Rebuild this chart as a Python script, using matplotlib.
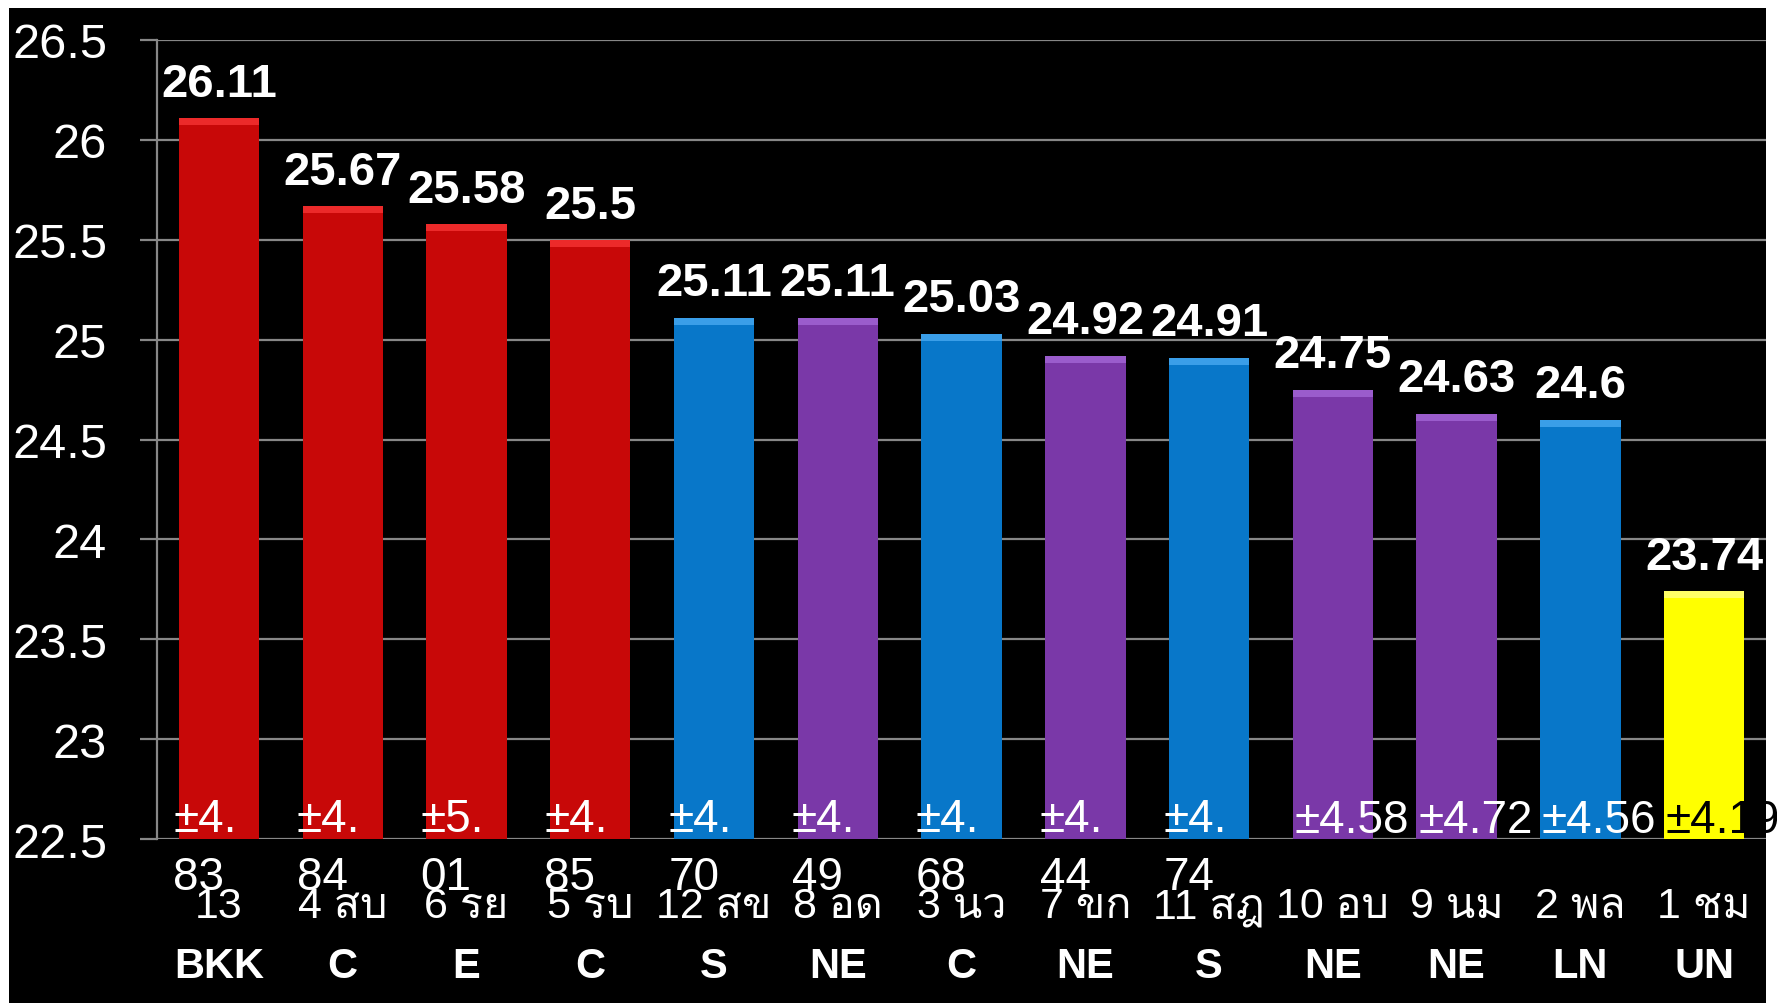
import matplotlib
matplotlib.use("Agg")
import matplotlib.pyplot as plt
from matplotlib import font_manager
from matplotlib.ft2font import FT2Font
from matplotlib.patches import Rectangle

# data
zones = ["13", "4 สบ", "6 รย", "5 รบ", "12 สข", "8 อด", "3 นว", "7 ขก",
         "11 สฎ", "10 อบ", "9 นม", "2 พล", "1 ชม"]
regions = ["BKK", "C", "E", "C", "S", "NE", "C", "NE", "S", "NE", "NE", "LN", "UN"]
means = [26.11, 25.67, 25.58, 25.5, 25.11, 25.11, 25.03, 24.92, 24.91,
         24.75, 24.63, 24.6, 23.74]
sds = ["4.83", "4.84", "5.01", "4.85", "4.70", "4.49", "4.68", "4.44", "4.74",
       "4.58", "4.72", "4.56", "4.19"]
groups = ["top", "top", "top", "top", "south", "ne", "south", "ne", "south",
          "ne", "ne", "south", "low"]

fill = {"top": "#c80808", "south": "#0877c9", "ne": "#7a38a8", "low": "#ffff00"}
shine = {"top": "#ec2a2a", "south": "#3a9ee8", "ne": "#9a5ccc", "low": "#ffff66"}

# pick up a font that can draw Thai, fall back to Liberation Sans for the rest
thai_font = None
for f in font_manager.fontManager.ttflist:
    try:
        if 0x0E2A in FT2Font(f.fname).get_charmap():
            thai_font = f.name
            break
    except Exception:
        pass
families = ["Liberation Sans"] + ([thai_font] if thai_font else []) + ["DejaVu Sans"]
plt.rcParams["font.family"] = families

fig = plt.figure(figsize=(17.77, 10.04), dpi=100, facecolor="white")
fig.patches.append(Rectangle((0.0051, 0), 0.9887, 0.991, transform=fig.transFigure,
                             facecolor="black", edgecolor="none", zorder=-5))
ax = fig.add_axes([0.0884, 0.1633, 0.9054, 0.7959])
ax.set_facecolor("none")

x = list(range(len(means)))
base = 22.5
heights = [m - base for m in means]
ax.bar(x, heights, bottom=base, width=0.65,
       color=[fill[g] for g in groups], zorder=3)
# bevel highlight along the top of each bar
ax.bar(x, [0.035] * len(x), bottom=[m - 0.035 for m in means], width=0.65,
       color=[shine[g] for g in groups], zorder=4)

ax.set_ylim(22.5, 26.5)
ax.set_xlim(-0.5, len(means) - 0.5)
ax.set_yticks([22.5, 23, 23.5, 24, 24.5, 25, 25.5, 26, 26.5])
ax.set_yticklabels(["22.5", "23", "23.5", "24", "24.5", "25", "25.5", "26", "26.5"])
ax.grid(axis="y", color="#878787", linewidth=1.6, zorder=0)
ax.set_axisbelow(True)
for s in ["top", "right", "bottom"]:
    ax.spines[s].set_visible(False)
ax.spines["left"].set_color("#878787")
ax.spines["left"].set_linewidth(1.6)
ax.tick_params(axis="y", colors="#878787", length=12, width=1.6, pad=24,
               labelcolor="white", labelsize=35)

ax.set_xticks(x)
ax.set_xticklabels(zones, color="white", fontsize=31)
ax.tick_params(axis="x", length=0, pad=34)

# region code on a second row under the zone name
for i, r in enumerate(regions):
    ax.annotate(r, (i, base), xytext=(0, -99), textcoords="offset points",
                ha="center", va="baseline", color="white", fontsize=30,
                fontweight="bold", annotation_clip=False)

# mean value above each bar
for i, m in enumerate(means):
    ax.annotate(f"{m:g}", (i, m), xytext=(0, 16), textcoords="offset points",
                ha="center", va="baseline", color="white", fontsize=34,
                fontweight="bold", zorder=6)

# standard deviation at the foot of each bar
for i, s in enumerate(sds):
    if i < 9:
        txt = "±" + s[:2] + "\n" + s[2:]
        dx, dy = -0.37, -36
    else:
        txt = "±" + s
        dx, dy = -0.31, 5
    col = "black" if groups[i] == "low" else "white"
    ax.annotate(txt, (i + dx, base), xytext=(0, dy), textcoords="offset points",
                ha="left", va="baseline", color=col, fontsize=33,
                linespacing=1.4, annotation_clip=False, zorder=6)

fig.savefig("out.png", dpi=100, facecolor="white")
